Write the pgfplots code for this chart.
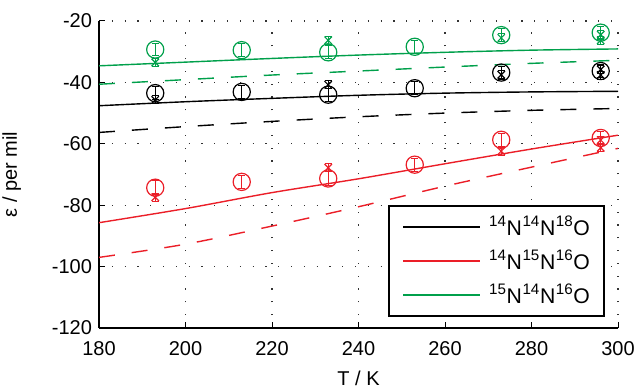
\documentclass[border=0pt]{standalone}
\usepackage{pgfplots}
\pgfplotsset{compat=1.18}
\usepackage{fontspec}
\setmainfont{Liberation Sans}
\definecolor{cred}{RGB}{235,30,40}
\definecolor{cgreen}{RGB}{0,160,75}
\newcommand{\su}[1]{\raisebox{4.6pt}{\fontsize{7.6}{8}\selectfont #1}\kern0.3pt}
\newcommand{\iso}[3]{\su{#1}N\kern0.3pt\su{#2}N\kern0.3pt\su{#3}O}
\begin{document}
\begin{tikzpicture}[font=\fontsize{10}{12}\selectfont]
\useasboundingbox (-49.5pt,-30.5pt) rectangle (270.5pt,164pt);
\begin{axis}[
  scale only axis, width=259.5pt, height=153.5pt,
  xmin=180, xmax=300, ymin=-120, ymax=-20,
  axis x line*=bottom, axis y line*=left,
  axis line style={line width=0.6pt},
  xtick={180,200,220,240,260,280,300},
  xticklabels={180,200,220,240,260,280,300},
  ytick={-120,-100,-80,-60,-40,-20},
  yticklabels={-120,-100,-80,-60,-40,-20},
  xticklabel style={yshift=-3.3pt},
  tick align=inside, major tick length=3pt,
  tick style={black, line width=0.5pt},
  grid=major,
  major grid style={black!80, line width=0.6pt, dash pattern=on 0.6pt off 5.8pt},
  xlabel={T / K}, ylabel={ε / per mil},
  xlabel style={at={(axis description cs:0.5,-0.163)}, anchor=center},
  ylabel style={at={(axis description cs:-0.168,0.5)}, anchor=center},
  legend style={at={(rel axis cs:0.975,0.400)}, anchor=north east,
    draw=black, line width=1.1pt, inner xsep=7pt, inner ysep=2pt,
    font=\fontsize{10.6}{12}\selectfont,
    nodes={inner sep=0pt, minimum height=17pt},
    row sep=0pt, column sep=4.5pt},
  legend cell align=left,
  error bars/error bar style={line width=0.5pt},
  error bars/error mark options={rotate=90, mark size=1.8pt, line width=0.5pt},
]
\addlegendimage{legend image code/.code={\path[fill=black, draw=none] (0pt,-0.55pt) rectangle (38.5pt,0.55pt);}}
\addlegendentry{\iso{14}{14}{18}}
\addlegendimage{legend image code/.code={\path[fill=cred, draw=none] (0pt,-0.55pt) rectangle (38.5pt,0.55pt);}}
\addlegendentry{\iso{14}{15}{16}}
\addlegendimage{legend image code/.code={\path[fill=cgreen, draw=none] (0pt,-0.55pt) rectangle (38.5pt,0.55pt);}}
\addlegendentry{\iso{15}{14}{16}}
% model lines (solid)
\addplot[black, line width=0.7pt, smooth, forget plot] coordinates {(180,-47.6)(200,-46.3)(220,-45.2)(240,-44.2)(260,-43.5)(280,-43.1)(300,-42.9)};
\addplot[cred, line width=0.7pt, smooth, forget plot] coordinates {(180,-85.7)(200,-81.1)(220,-75.9)(240,-71.4)(260,-66.5)(280,-61.7)(300,-57.2)};
\addplot[cgreen, line width=0.7pt, smooth, forget plot] coordinates {(180,-34.6)(200,-33.4)(220,-32.2)(240,-31.1)(260,-30.2)(280,-29.5)(300,-29.1)};
% dashed lines
\addplot[black, line width=0.7pt, smooth, dash pattern=on 8pt off 8.5pt, forget plot] coordinates {(180,-56.3)(200,-54.4)(220,-52.7)(240,-51.2)(260,-50.0)(280,-49.1)(300,-48.5)};
\addplot[cred, line width=0.7pt, smooth, dash pattern=on 8pt off 8.5pt, forget plot] coordinates {(180,-97.0)(200,-92.7)(220,-86.8)(240,-80.5)(260,-73.8)(280,-67.6)(300,-61.5)};
\addplot[cgreen, line width=0.7pt, smooth, dash pattern=on 8pt off 8.5pt, forget plot] coordinates {(180,-40.6)(200,-39.1)(220,-37.6)(240,-36.3)(260,-35.0)(280,-33.8)(300,-32.8)};
% circles
\addplot[black, only marks, mark=o, mark size=4.3pt, mark options={line width=0.6pt}, forget plot,
  error bars/.cd, y dir=both, y explicit] coordinates {
  (193,-43.5) +- (0,2.1) (213,-43.1) +- (0,2.1) (233,-44.0) +- (0,2.1)
  (253,-41.9) +- (0,2.1) (273,-36.8) +- (0,2.1) (296,-36.3) +- (0,2.1)};
\addplot[cred, only marks, mark=o, mark size=4.3pt, mark options={line width=0.6pt}, forget plot,
  error bars/.cd, y dir=both, y explicit] coordinates {
  (193,-74.3) +- (0,2.2) (213,-72.4) +- (0,2.2) (233,-71.3) +- (0,2.2)
  (253,-66.8) +- (0,2.1) (273,-58.7) +- (0,2.1) (296,-58.1) +- (0,2.1)};
\addplot[cgreen, only marks, mark=o, mark size=4.3pt, mark options={line width=0.6pt}, forget plot,
  error bars/.cd, y dir=both, y explicit] coordinates {
  (193,-29.3) +- (0,2.1) (213,-29.5) +- (0,2.1) (233,-30.2) +- (0,2.1)
  (253,-28.4) +- (0,2.1) (273,-24.6) +- (0,2.1) (296,-23.8) +- (0,2.1)};
% crosses
\addplot[black, only marks, mark=x, mark size=2.6pt, mark options={line width=0.6pt}, forget plot,
  error bars/.cd, y dir=both, y explicit] coordinates {
  (193,-45.7) +- (0,1.3) (233,-40.8) +- (0,1.3) (273,-37.5) +- (0,1.3) (296,-37.6) +- (0,1.3) (296,-35.8) +- (0,1.3)};
\addplot[cred, only marks, mark=x, mark size=2.6pt, mark options={line width=0.6pt}, forget plot,
  error bars/.cd, y dir=both, y explicit] coordinates {
  (193,-77.4) +- (0,1.3) (233,-67.8) +- (0,1.3) (273,-62.4) +- (0,1.3) (296,-61.3) +- (0,1.3) (296,-58.8) +- (0,1.3)};
\addplot[cgreen, only marks, mark=x, mark size=2.6pt, mark options={line width=0.6pt}, forget plot,
  error bars/.cd, y dir=both, y explicit] coordinates {
  (193,-33.5) +- (0,1.3) (233,-26.3) +- (0,1.3) (273,-25.5) +- (0,1.3) (296,-26.3) +- (0,1.3) (296,-24.5) +- (0,1.3)};
\end{axis}
\end{tikzpicture}
\end{document}
